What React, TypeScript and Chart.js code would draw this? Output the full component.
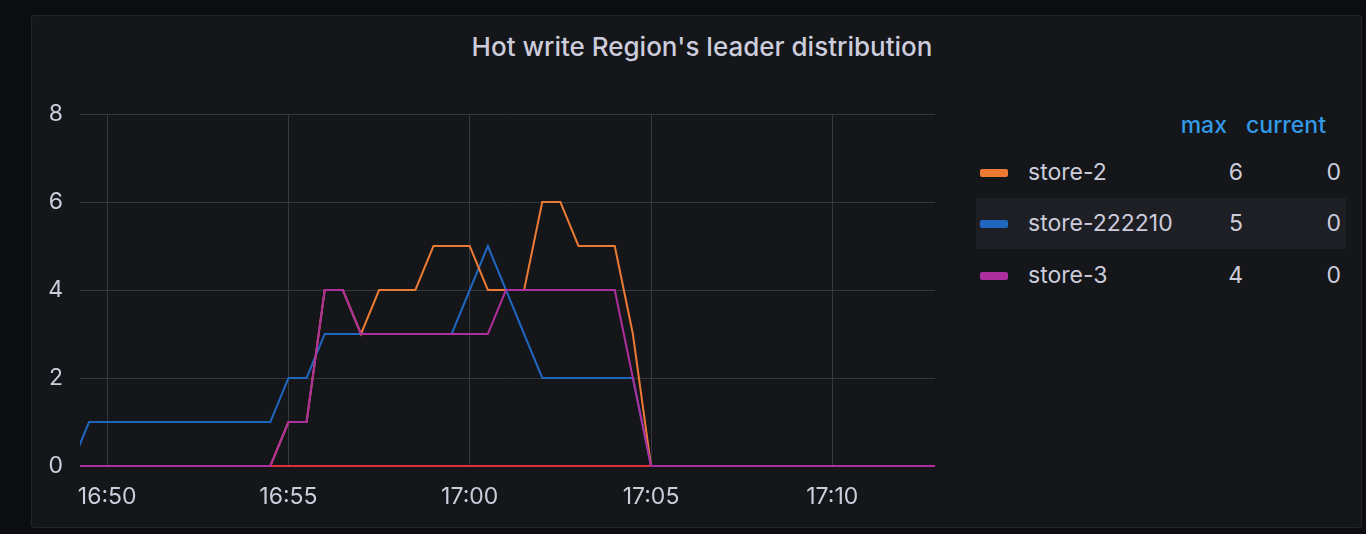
import React, { useEffect, useRef } from "react";
import { Chart, registerables } from "chart.js";

Chart.register(...registerables);

// ---- data (30 s samples) ----
const times = [
  "16:49:00", "16:49:30", "16:50:00", "16:50:30", "16:51:00", "16:51:30", "16:52:00",
  "16:52:30", "16:53:00", "16:53:30", "16:54:00", "16:54:30", "16:55:00", "16:55:30",
  "16:56:00", "16:56:30", "16:57:00", "16:57:30", "16:58:00", "16:58:30", "16:59:00",
  "16:59:30", "17:00:00", "17:00:30", "17:01:00", "17:01:30", "17:02:00", "17:02:30",
  "17:03:00", "17:03:30", "17:04:00", "17:04:30", "17:05:00", "17:05:30", "17:06:00",
  "17:06:30", "17:07:00", "17:07:30", "17:08:00", "17:08:30", "17:09:00", "17:09:30",
  "17:10:00", "17:10:30", "17:11:00", "17:11:30", "17:12:00", "17:12:30", "17:13:00",
];

const store2 = [
  0, 0, 0, 0, 0, 0, 0, 0, 0, 0, 0, 0, 1, 1, 4, 4, 3, 4, 4, 4, 5, 5, 5, 4, 4, 4, 6, 6, 5, 5, 5, 3,
  0, 0, 0, 0, 0, 0, 0, 0, 0, 0, 0, 0, 0, 0, 0, 0, 0,
];
const store222210 = [
  0, 1, 1, 1, 1, 1, 1, 1, 1, 1, 1, 1, 2, 2, 3, 3, 3, 3, 3, 3, 3, 3, 4, 5, 4, 3, 2, 2, 2, 2, 2, 2,
  0, 0, 0, 0, 0, 0, 0, 0, 0, 0, 0, 0, 0, 0, 0, 0, 0,
];
const store3 = [
  0, 0, 0, 0, 0, 0, 0, 0, 0, 0, 0, 0, 1, 1, 4, 4, 3, 3, 3, 3, 3, 3, 3, 3, 4, 4, 4, 4, 4, 4, 4, 2,
  0, 0, 0, 0, 0, 0, 0, 0, 0, 0, 0, 0, 0, 0, 0, 0, 0,
];
const store1 = [
  0, 0, 0, 0, 0, 0, 0, 0, 0, 0, 0, 0, 0, 0, 0, 0, 0, 0, 0, 0, 0, 0, 0, 0, 0, 0, 0, 0, 0, 0, 0, 0,
  0, 0, 0, 0, 0, 0, 0, 0, 0, 0, 0, 0, 0, 0, 0, 0, 0,
];

const xTickLabels = ["16:50", "16:55", "17:00", "17:05", "17:10"];
const xRange = ["16:49:15", "17:12:50"];
const yTicks = [0, 2, 4, 6, 8];

const legendNames = ["store-2", "store-222210", "store-3"];
const legendSeries = [store2, store222210, store3];
const legendColors = ["#EB7A35", "#1F66BF", "#AD2F9E"];
const hiddenColor = "#E0303A";

const TITLE = "Hot write Region's leader distribution";

const FONT = "Inter, 'Noto Sans', sans-serif";
const TEXT = "#ccccdc";
const GRID = "#35373c";

function toMin(t: string): number {
  const p = t.split(":").map(Number);
  return p[0] * 60 + p[1] + (p[2] || 0) / 60 - 16 * 60;
}
function fmt(v: number): string {
  const total = Math.round(v) + 16 * 60;
  const h = Math.floor(total / 60);
  const m = total % 60;
  return `${h}:${m < 10 ? "0" : ""}${m}`;
}

export default function App() {
  const ref = useRef<HTMLCanvasElement | null>(null);

  useEffect(() => {
    if (!ref.current) return;
    const mk = (vals: number[]) => times.map((t, i) => ({ x: toMin(t), y: vals[i] }));
    const common = {
      borderWidth: 2,
      pointRadius: 0,
      pointHoverRadius: 0,
      tension: 0,
      fill: false,
      clip: { left: 0, right: 0, top: 4, bottom: 4 } as any,
    };
    const chart = new Chart(ref.current, {
      type: "line",
      data: {
        datasets: [
          { label: "store-3", data: mk(store3), borderColor: legendColors[2], order: 0, ...common },
          { label: "store-1", data: mk(store1), borderColor: hiddenColor, order: 1, ...common },
          { label: "store-2", data: mk(store2), borderColor: legendColors[0], order: 2, ...common },
          { label: "store-222210", data: mk(store222210), borderColor: legendColors[1], order: 3, ...common },
        ] as any,
      },
      options: {
        animation: false,
        responsive: false,
        maintainAspectRatio: false,
        devicePixelRatio: 1,
        layout: { padding: { top: 114, right: 25, bottom: 0, left: 0 } },
        plugins: { legend: { display: false }, tooltip: { enabled: false }, title: { display: false } },
        scales: {
          x: {
            type: "linear",
            min: toMin(xRange[0]),
            max: toMin(xRange[1]),
            afterBuildTicks: (s: any) => {
              s.ticks = xTickLabels.map((l) => ({ value: toMin(l) }));
            },
            afterFit: (s: any) => {
              s.height = 68;
            },
            ticks: {
              callback: (v: any) => fmt(Number(v)),
              color: TEXT,
              font: { family: FONT, size: 23 },
              padding: 17,
              maxRotation: 0,
              autoSkip: false,
            },
            grid: { color: GRID, drawTicks: false, lineWidth: 1 },
            border: { display: false },
          },
          y: {
            min: 0,
            max: 8,
            afterBuildTicks: (s: any) => {
              s.ticks = yTicks.map((v) => ({ value: v }));
            },
            afterFit: (s: any) => {
              s.width = 80;
            },
            ticks: {
              color: TEXT,
              font: { family: FONT, size: 23 },
              padding: 17,
            },
            grid: { color: GRID, drawTicks: false, lineWidth: 1 },
            border: { display: false },
          },
        },
      } as any,
    });
    return () => chart.destroy();
  }, []);

  const rowTop = [146.5, 198, 249.5];

  return (
    <div
      style={{
        position: "fixed",
        left: 0,
        top: 0,
        width: 1366,
        height: 534,
        background: "#0c0d10",
        overflow: "hidden",
        fontFamily: FONT,
      }}
    >
      <div
        style={{
          position: "absolute",
          left: 31,
          top: 15,
          width: 1329,
          height: 511,
          background: "#141619",
          border: "1px solid #23252a",
          borderRadius: 3,
        }}
      />
      <div
        style={{
          position: "absolute",
          left: 352,
          width: 700,
          top: 30,
          textAlign: "center",
          color: TEXT,
          fontSize: 26,
          fontWeight: 500,
          lineHeight: "34px",
          whiteSpace: "nowrap",
        }}
      >
        {TITLE}
      </div>
      <canvas
        ref={ref}
        width={960}
        height={534}
        style={{ position: "absolute", left: 0, top: 0, width: 960, height: 534 }}
      />
      {/* legend header */}
      <div
        style={{
          position: "absolute",
          top: 110,
          left: 1120,
          width: 107,
          textAlign: "right",
          color: "#3399e6",
          fontSize: 23,
          fontWeight: 500,
          lineHeight: "30px",
        }}
      >
        max
      </div>
      <div
        style={{
          position: "absolute",
          top: 110,
          left: 1220,
          width: 106,
          textAlign: "right",
          color: "#3399e6",
          fontSize: 23,
          fontWeight: 500,
          lineHeight: "30px",
        }}
      >
        current
      </div>
      {legendNames.map((name, k) => {
        const vals = legendSeries[k];
        const mx = Math.max(...vals);
        const cur = vals[vals.length - 1];
        return (
          <div
            key={name}
            style={{
              position: "absolute",
              left: 976,
              top: rowTop[k],
              width: 370,
              height: 51,
              background: k === 1 ? "#1e1f24" : "transparent",
              color: TEXT,
              fontSize: 23,
              lineHeight: "51px",
            }}
          >
            <div
              style={{
                position: "absolute",
                left: 4,
                top: 22,
                width: 28,
                height: 8,
                borderRadius: 2,
                background: legendColors[k],
              }}
            />
            <div style={{ position: "absolute", left: 52, top: 0 }}>{name}</div>
            <div style={{ position: "absolute", right: 103, top: 0 }}>{mx}</div>
            <div style={{ position: "absolute", right: 5, top: 0 }}>{cur}</div>
          </div>
        );
      })}
    </div>
  );
}
